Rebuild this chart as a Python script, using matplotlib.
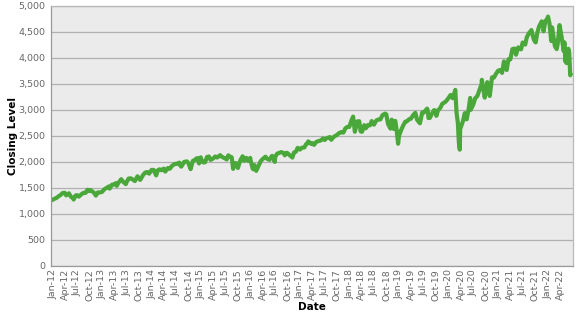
import numpy as np
import pandas as pd
import matplotlib
matplotlib.use("Agg")
import matplotlib.pyplot as plt
import matplotlib.dates as mdates
from matplotlib.ticker import FuncFormatter

# S&P 500 closing level (a few points per month)
dates = [
    "2012-01-03", "2012-01-13", "2012-01-31", "2012-02-15", "2012-02-29", "2012-03-15", "2012-03-30",
    "2012-04-10", "2012-04-30", "2012-05-15", "2012-05-31", "2012-06-04", "2012-06-19", "2012-06-29",
    "2012-07-12", "2012-07-31", "2012-08-15", "2012-08-31", "2012-09-14", "2012-09-28", "2012-10-05",
    "2012-10-31", "2012-11-15", "2012-11-30", "2012-12-14", "2012-12-31",
    "2013-01-15", "2013-01-31", "2013-02-19", "2013-02-25", "2013-03-14", "2013-03-28", "2013-04-11",
    "2013-04-18", "2013-04-30", "2013-05-21", "2013-05-31", "2013-06-24", "2013-06-28", "2013-07-15",
    "2013-07-31", "2013-08-15", "2013-08-30", "2013-09-18", "2013-09-30", "2013-10-08", "2013-10-31",
    "2013-11-15", "2013-11-29", "2013-12-13", "2013-12-31",
    "2014-01-15", "2014-02-03", "2014-02-14", "2014-02-28", "2014-03-14", "2014-03-31", "2014-04-11",
    "2014-04-30", "2014-05-15", "2014-05-30", "2014-06-20", "2014-06-30", "2014-07-24", "2014-07-31",
    "2014-08-07", "2014-08-29", "2014-09-18", "2014-09-30", "2014-10-15", "2014-10-31", "2014-11-14",
    "2014-11-28", "2014-12-05", "2014-12-16", "2014-12-29", "2014-12-31",
    "2015-01-15", "2015-01-30", "2015-02-13", "2015-02-27", "2015-03-11", "2015-03-31", "2015-04-15",
    "2015-04-30", "2015-05-21", "2015-05-29", "2015-06-15", "2015-06-30", "2015-07-08", "2015-07-20",
    "2015-07-31", "2015-08-14", "2015-08-25", "2015-08-31", "2015-09-15", "2015-09-29", "2015-10-15",
    "2015-11-03", "2015-11-13", "2015-11-30", "2015-12-14", "2015-12-29", "2015-12-31",
    "2016-01-15", "2016-01-20", "2016-01-29", "2016-02-11", "2016-02-29", "2016-03-15", "2016-03-31",
    "2016-04-20", "2016-04-29", "2016-05-19", "2016-05-31", "2016-06-08", "2016-06-27", "2016-06-30",
    "2016-07-15", "2016-07-29", "2016-08-15", "2016-08-31", "2016-09-09", "2016-09-22", "2016-09-30",
    "2016-10-14", "2016-11-04", "2016-11-15", "2016-11-30", "2016-12-13", "2016-12-30",
    "2017-01-13", "2017-01-31", "2017-02-15", "2017-02-28", "2017-03-01", "2017-03-22", "2017-03-31",
    "2017-04-13", "2017-04-28", "2017-05-15", "2017-05-31", "2017-06-19", "2017-06-30", "2017-07-14",
    "2017-07-31", "2017-08-07", "2017-08-18", "2017-08-31", "2017-09-15", "2017-09-29", "2017-10-13",
    "2017-10-31", "2017-11-15", "2017-11-30", "2017-12-15", "2017-12-29",
    "2018-01-12", "2018-01-26", "2018-02-08", "2018-02-26", "2018-03-12", "2018-03-23", "2018-03-29",
    "2018-04-02", "2018-04-18", "2018-04-30", "2018-05-15", "2018-05-31", "2018-06-12", "2018-06-29",
    "2018-07-16", "2018-07-31", "2018-08-15", "2018-08-31", "2018-09-20", "2018-09-28", "2018-10-11",
    "2018-10-29", "2018-10-31", "2018-11-07", "2018-11-23", "2018-11-30", "2018-12-03", "2018-12-14",
    "2018-12-24", "2018-12-31",
    "2019-01-15", "2019-01-31", "2019-02-15", "2019-02-28", "2019-03-15", "2019-03-29", "2019-04-15",
    "2019-04-30", "2019-05-13", "2019-05-31", "2019-06-03", "2019-06-20", "2019-06-28", "2019-07-26",
    "2019-07-31", "2019-08-05", "2019-08-15", "2019-08-30", "2019-09-16", "2019-09-30", "2019-10-02",
    "2019-10-15", "2019-10-31", "2019-11-15", "2019-11-29", "2019-12-13", "2019-12-31",
    "2020-01-15", "2020-01-31", "2020-02-19", "2020-02-28", "2020-03-09", "2020-03-16", "2020-03-23",
    "2020-03-26", "2020-04-15", "2020-04-29", "2020-05-13", "2020-05-29", "2020-06-08", "2020-06-11",
    "2020-06-30", "2020-07-15", "2020-07-31", "2020-08-14", "2020-08-31", "2020-09-02", "2020-09-23",
    "2020-09-30", "2020-10-12", "2020-10-30", "2020-11-16", "2020-11-30", "2020-12-15", "2020-12-31",
    "2021-01-15", "2021-01-29", "2021-02-12", "2021-02-26", "2021-03-04", "2021-03-17", "2021-03-31",
    "2021-04-15", "2021-04-30", "2021-05-12", "2021-05-28", "2021-06-18", "2021-06-30", "2021-07-19",
    "2021-07-30", "2021-08-16", "2021-08-31", "2021-09-02", "2021-09-20", "2021-09-30", "2021-10-04",
    "2021-10-15", "2021-10-29", "2021-11-18", "2021-11-30", "2021-12-01", "2021-12-15", "2021-12-31",
    "2022-01-03", "2022-01-14", "2022-01-27", "2022-02-02", "2022-02-23", "2022-03-08", "2022-03-15",
    "2022-03-29", "2022-04-14", "2022-04-29", "2022-05-04", "2022-05-12", "2022-05-17", "2022-05-20",
    "2022-06-02", "2022-06-08", "2022-06-16", "2022-06-17",
]
closes = [
    1277, 1289, 1312, 1343, 1366, 1403, 1408,
    1358, 1398, 1330, 1310, 1278, 1357, 1362,
    1334, 1379, 1405, 1406, 1465, 1441, 1461,
    1412, 1353, 1416, 1413, 1426,
    1472, 1498, 1530, 1488, 1563, 1569, 1593,
    1541, 1598, 1669, 1631, 1573, 1606, 1682,
    1686, 1661, 1633, 1725, 1682, 1655, 1757,
    1798, 1806, 1775, 1848,
    1848, 1742, 1838, 1859, 1841, 1872, 1815,
    1884, 1870, 1924, 1963, 1960, 1988, 1931,
    1910, 2003, 2011, 1972, 1862, 2018, 2039,
    2068, 2075, 1972, 2090, 2059,
    1992, 1995, 2096, 2105, 2040, 2068, 2106,
    2086, 2131, 2107, 2084, 2063, 2047, 2128,
    2104, 2092, 1868, 1972, 1978, 1884, 2023,
    2110, 2023, 2080, 2021, 2078, 2044,
    1880, 1859, 1940, 1829, 1932, 2015, 2060,
    2102, 2065, 2040, 2097, 2119, 2001, 2099,
    2161, 2174, 2190, 2171, 2128, 2177, 2168,
    2133, 2085, 2180, 2199, 2272, 2239,
    2275, 2279, 2349, 2364, 2396, 2348, 2363,
    2329, 2384, 2402, 2412, 2453, 2423, 2459,
    2470, 2480, 2426, 2472, 2500, 2519, 2553,
    2575, 2565, 2648, 2675, 2674,
    2786, 2873, 2581, 2780, 2784, 2588, 2641,
    2582, 2708, 2648, 2711, 2705, 2787, 2718,
    2798, 2816, 2818, 2902, 2931, 2914, 2729,
    2641, 2712, 2814, 2633, 2760, 2790, 2599,
    2351, 2507,
    2610, 2704, 2775, 2784, 2822, 2834, 2905,
    2946, 2812, 2752, 2744, 2954, 2942, 3026,
    2980, 2845, 2847, 2926, 2998, 2977, 2888,
    2995, 3038, 3120, 3141, 3169, 3231,
    3289, 3226, 3386, 2954, 2746, 2386, 2237,
    2630, 2783, 2940, 2820, 3044, 3232, 3002,
    3100, 3226, 3271, 3373, 3500, 3580, 3237,
    3363, 3535, 3270, 3627, 3622, 3694, 3756,
    3768, 3714, 3935, 3811, 3768, 3974, 3973,
    4170, 4181, 4063, 4204, 4166, 4298, 4258,
    4395, 4480, 4523, 4537, 4358, 4308, 4300,
    4471, 4605, 4705, 4567, 4513, 4709, 4766,
    4797, 4663, 4326, 4589, 4226, 4171, 4262,
    4632, 4393, 4132, 4300, 3930, 4088, 3901,
    4177, 4116, 3667, 3675,
]

y_ticks = list(range(0, 5001, 500))
# quarterly date ticks, Jan-12 .. Apr-22
x_ticks = pd.date_range("2012-01-01", "2022-04-01", freq="QS-JAN")

dates = pd.to_datetime(dates)

plt.rcParams['font.family'] = ['DejaVu Sans']

fig = plt.figure(figsize=(5.77, 3.15), dpi=100)
ax = fig.add_axes([0.0884, 0.1556, 0.9041, 0.8254])
ax.set_facecolor('#ebebeb')

ax.plot(dates, closes, color='#4aa83a', linewidth=3.0, solid_joinstyle='round')

ax.set_ylim(0, 5000)
ax.set_yticks(y_ticks)
ax.yaxis.set_major_formatter(FuncFormatter(lambda v, p: f"{int(v):,}"))
ax.grid(axis='y', color='#b0b0b0', linewidth=0.9)
ax.set_axisbelow(True)

ax.set_xlim(pd.Timestamp("2011-12-20"), pd.Timestamp("2022-07-04"))
ax.set_xticks(x_ticks)
ax.xaxis.set_major_formatter(mdates.DateFormatter('%b-%y'))

ax.tick_params(axis='both', length=0, labelsize=6.8, labelcolor='#666666')
ax.tick_params(axis='y', pad=4)
ax.tick_params(axis='x', pad=2, labelrotation=90)

for s in ax.spines.values():
    s.set_color('#b8b8b8')
    s.set_linewidth(0.9)
ax.spines['left'].set_color('#999999')
ax.spines['bottom'].set_color('#999999')

ax.set_ylabel('Closing Level', fontsize=7.5, fontweight='bold')
ax.yaxis.set_label_coords(-0.063, 0.5)
ax.set_xlabel('Date', fontsize=7.5, fontweight='bold')
ax.xaxis.set_label_coords(0.5, -0.137)

fig.savefig('out.png', dpi=100)
